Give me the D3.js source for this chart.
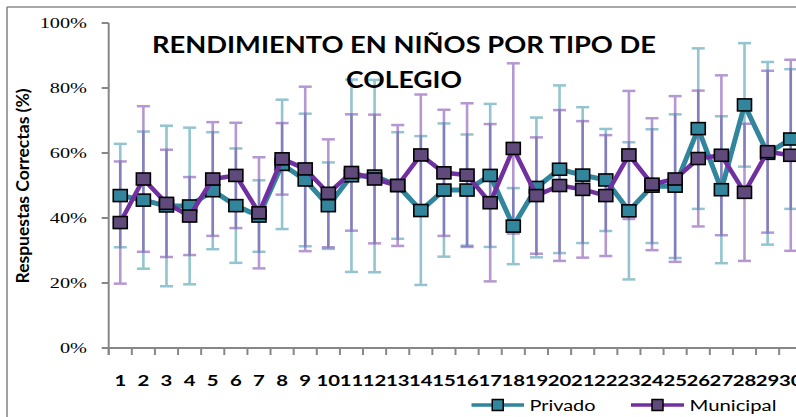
<!DOCTYPE html>
<html>
<head>
<meta charset="utf-8">
<script src="https://cdn.jsdelivr.net/npm/d3@7"></script>
<style>
  body { margin: 0; background: #fff; }
  svg { display: block; }
</style>
</head>
<body>
<div id="chart"></div>
<script>
// Datos (porcentaje de respuestas correctas)
var categories = ["1","2","3","4","5","6","7","8","9","10","11","12","13","14","15",
                  "16","17","18","19","20","21","22","23","24","25","26","27","28","29","30"];

var privado = [46.9, 45.5, 43.7, 43.7, 48.4, 43.8, 40.6, 56.5, 51.7, 43.8,
               53.0, 52.9, 50.0, 42.3, 48.6, 48.6, 53.1, 37.5, 49.4, 55.0,
               53.2, 51.7, 42.2, 49.8, 49.8, 67.5, 48.7, 74.8, 59.9, 64.3];
var privadoErr = [15.9, 21.1, 24.7, 24.1, 18.0, 17.6, 11.0, 19.9, 20.4, 13.3,
                  29.6, 29.6, 16.4, 22.9, 20.5, 17.1, 22.0, 11.7, 21.5, 25.8,
                  20.9, 15.7, 21.1, 17.5, 22.1, 24.7, 22.6, 19.0, 28.1, 21.5];

var municipal = [38.6, 52.0, 44.5, 40.6, 52.0, 53.1, 41.6, 58.2, 55.1, 47.6,
                 54.0, 52.0, 50.0, 59.4, 53.9, 53.2, 44.7, 61.4, 46.9, 50.0,
                 48.8, 46.9, 59.4, 50.4, 52.0, 58.3, 59.3, 47.9, 60.4, 59.3];
var municipalErr = [18.8, 22.4, 16.5, 12.0, 17.5, 16.2, 17.1, 11.0, 25.3, 16.6,
                    17.9, 19.8, 18.6, 18.6, 19.4, 22.1, 24.2, 26.2, 17.9, 23.2,
                    21.0, 18.6, 19.7, 20.3, 25.5, 20.9, 24.6, 21.1, 24.9, 29.4];

var yTicks = [0, 20, 40, 60, 80, 100];
var seriesNames = ["Privado", "Municipal"];

var width = 796, height = 417;

var svg = d3.select("#chart").append("svg")
    .attr("width", width)
    .attr("height", height);

// marco exterior del grafico
svg.append("line").attr("x1", 7).attr("x2", width).attr("y1", 7).attr("y2", 7)
    .attr("stroke", "#8a8a8a").attr("stroke-width", 1.6);
svg.append("line").attr("x1", 7).attr("x2", 7).attr("y1", 7).attr("y2", height)
    .attr("stroke", "#8a8a8a").attr("stroke-width", 1.6);

var x = d3.scaleBand().domain(categories).range([108.7, 802.3]).padding(0);
var y = d3.scaleLinear().domain([0, 100]).range([348, 23]);
var cx = function(c) { return x(c) + x.bandwidth() / 2; };

var axisColor = "#878787";

// eje Y
svg.append("line").attr("x1", x.range()[0]).attr("x2", x.range()[0])
    .attr("y1", y(100)).attr("y2", y(0) + 7)
    .attr("stroke", axisColor).attr("stroke-width", 2);
svg.selectAll(".ytick").data(yTicks).enter().append("line")
    .attr("x1", x.range()[0] - 7).attr("x2", x.range()[0])
    .attr("y1", function(d) { return y(d); }).attr("y2", function(d) { return y(d); })
    .attr("stroke", axisColor).attr("stroke-width", 2);
svg.selectAll(".ylab").data(yTicks).enter().append("text")
    .attr("transform", function(d) { return "translate(87," + y(d) + ") scale(1.45,1)"; })
    .attr("dy", "0.35em")
    .attr("text-anchor", "end")
    .attr("font-family", "'Liberation Serif', serif")
    .attr("font-size", 14)
    .attr("fill", "#000")
    .text(function(d) { return d + "%"; });

// eje X
svg.append("line").attr("x1", x.range()[0]).attr("x2", width)
    .attr("y1", y(0)).attr("y2", y(0))
    .attr("stroke", axisColor).attr("stroke-width", 2);
svg.selectAll(".xtick").data(categories).enter().append("line")
    .attr("x1", function(d) { return x(d); }).attr("x2", function(d) { return x(d); })
    .attr("y1", y(0)).attr("y2", y(0) + 7)
    .attr("stroke", axisColor).attr("stroke-width", 2);
svg.selectAll(".xlab").data(categories).enter().append("text")
    .attr("transform", function(d) { return "translate(" + cx(d) + ",386) scale(1.4,1)"; })
    .attr("text-anchor", "middle")
    .attr("font-family", "Lato, sans-serif")
    .attr("font-weight", "bold")
    .attr("font-size", 14.5)
    .attr("fill", "#000")
    .text(function(d) { return d; });

// titulo del eje Y
svg.append("text")
    .attr("transform", "translate(29,186) scale(1.3,1) rotate(-90)")
    .attr("text-anchor", "middle")
    .attr("font-family", "Lato, sans-serif")
    .attr("font-weight", "bold")
    .attr("font-size", 13)
    .attr("textLength", 195)
    .attr("lengthAdjust", "spacingAndGlyphs")
    .text("Respuestas Correctas (%)");

// barras de error
var series = [
  { name: seriesNames[0], values: privado, err: privadoErr,
    errColor: "#93c4cf", errOpacity: 1, line: "#31859c", fill: "#31859c", width: 5 },
  { name: seriesNames[1], values: municipal, err: municipalErr,
    errColor: "#7a45af", errOpacity: 0.55, line: "#7030a0", fill: "#604a7b", width: 4.5 }
];

series.forEach(function(s) {
  var g = svg.append("g").attr("opacity", s.errOpacity);
  var rows = categories.map(function(c, i) { return { c: c, v: s.values[i], e: s.err[i] }; });
  var eb = g.selectAll("g").data(rows).enter().append("g");
  eb.append("line")
      .attr("x1", function(d) { return cx(d.c); }).attr("x2", function(d) { return cx(d.c); })
      .attr("y1", function(d) { return y(d.v + d.e); }).attr("y2", function(d) { return y(d.v - d.e); })
      .attr("stroke", s.errColor).attr("stroke-width", 2.6);
  [1, -1].forEach(function(sign) {
    eb.append("line")
        .attr("x1", function(d) { return cx(d.c) - 6.5; }).attr("x2", function(d) { return cx(d.c) + 6.5; })
        .attr("y1", function(d) { return y(d.v + sign * d.e); }).attr("y2", function(d) { return y(d.v + sign * d.e); })
        .attr("stroke", s.errColor).attr("stroke-width", 2.5);
  });
});

// lineas y marcadores
var line = d3.line().x(function(d) { return cx(d[0]); }).y(function(d) { return y(d[1]); });
series.forEach(function(s) {
  var pts = categories.map(function(c, i) { return [c, s.values[i]]; });
  svg.append("path").datum(pts)
      .attr("d", line)
      .attr("fill", "none")
      .attr("stroke", s.line)
      .attr("stroke-width", s.width)
      .attr("stroke-linejoin", "round");
  svg.selectAll(".m-" + s.name).data(pts).enter().append("rect")
      .attr("x", function(d) { return cx(d[0]) - 7; })
      .attr("y", function(d) { return y(d[1]) - 6; })
      .attr("width", 14).attr("height", 12)
      .attr("fill", s.fill)
      .attr("stroke", "#000").attr("stroke-width", 1.6);
});

// titulo
var title = svg.append("text")
    .attr("text-anchor", "middle")
    .attr("font-family", "Lato, sans-serif")
    .attr("font-weight", "bold")
    .attr("font-size", 23)
    .attr("fill", "#000");
title.append("tspan").attr("x", 404).attr("y", 53)
    .attr("textLength", 504).attr("lengthAdjust", "spacingAndGlyphs")
    .text("RENDIMIENTO EN NIÑOS POR TIPO DE");
title.append("tspan").attr("x", 404).attr("y", 88)
    .attr("textLength", 116).attr("lengthAdjust", "spacingAndGlyphs")
    .text("COLEGIO");

// leyenda
var legend = [
  { s: series[0], x0: 471.5, x1: 524, tx: 529.5, tw: 66 },
  { s: series[1], x0: 631, x1: 684, tx: 689.5, tw: 87 }
];
var lg = svg.selectAll(".legend").data(legend).enter().append("g");
lg.append("line")
    .attr("x1", function(d) { return d.x0; }).attr("x2", function(d) { return d.x1; })
    .attr("y1", 405).attr("y2", 405)
    .attr("stroke", function(d) { return d.s.line; }).attr("stroke-width", 3.5);
lg.append("rect")
    .attr("x", function(d) { return (d.x0 + d.x1) / 2 - 5.5; }).attr("y", 399.5)
    .attr("width", 11).attr("height", 11)
    .attr("fill", function(d) { return d.s.fill; })
    .attr("stroke", "#000").attr("stroke-width", 1.5);
lg.append("text")
    .attr("x", function(d) { return d.tx; }).attr("y", 411)
    .attr("font-family", "Lato, sans-serif")
    .attr("font-size", 15.5)
    .attr("textLength", function(d) { return d.tw; })
    .attr("lengthAdjust", "spacingAndGlyphs")
    .attr("fill", "#000")
    .text(function(d) { return d.s.name; });
</script>
</body>
</html>
